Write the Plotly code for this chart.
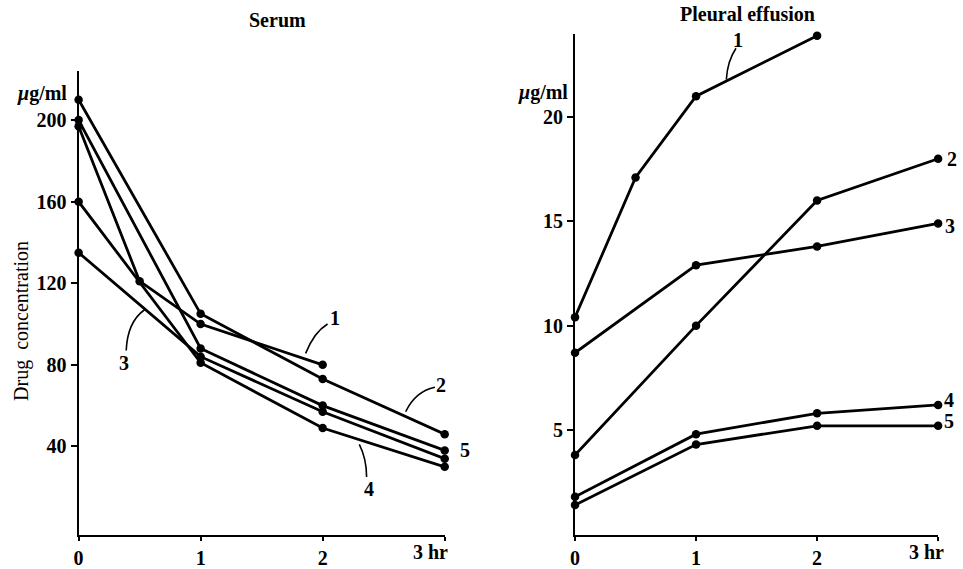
import plotly.graph_objects as go

# ---- Data ----
serum_names = ["1", "2", "3", "4", "5"]
serum_t = [
    [0, 0.5, 1, 2],
    [0, 1, 2, 3],
    [0, 1, 2, 3],
    [0, 1, 2, 3],
    [0, 1, 2, 3],
]
serum_c = [
    [197, 121, 100, 80],
    [210, 105, 73, 46],
    [135, 84, 57, 34],
    [160, 81, 49, 30],
    [200, 88, 60, 38],
]

pleural_names = ["1", "2", "3", "4", "5"]
pleural_t = [
    [0, 0.5, 1, 2],
    [0, 1, 2, 3],
    [0, 1, 2, 3],
    [0, 1, 2, 3],
    [0, 1, 2, 3],
]
pleural_c = [
    [10.4, 17.1, 21.0, 23.9],
    [3.8, 10.0, 16.0, 18.0],
    [8.7, 12.9, 13.8, 14.9],
    [1.8, 4.8, 5.8, 6.2],
    [1.4, 4.3, 5.2, 5.2],
]

x_tickvals = [0, 1, 2, 3]
x_ticktext = ["0", "1", "2", "3 hr"]
serum_yticks = [40, 80, 120, 160, 200]
pleural_yticks = [5, 10, 15, 20]

FONT = "Liberation Serif"
W, H = 963, 569
fig = go.Figure()

for t, c in zip(serum_t, serum_c):
    fig.add_trace(go.Scatter(x=t, y=c, mode="lines+markers", xaxis="x", yaxis="y",
                             line=dict(color="black", width=2.8),
                             marker=dict(color="black", size=8.5), cliponaxis=False,
                             showlegend=False))
for t, c in zip(pleural_t, pleural_c):
    fig.add_trace(go.Scatter(x=t, y=c, mode="lines+markers", xaxis="x2", yaxis="y2",
                             line=dict(color="black", width=2.8),
                             marker=dict(color="black", size=8.5), cliponaxis=False,
                             showlegend=False))

def axis_style(ticklen):
    return dict(showgrid=False, zeroline=False, showline=True, linecolor="black",
                linewidth=2, ticks="outside", tickcolor="black", ticklen=ticklen,
                tickwidth=1.5,
                tickfont=dict(family=FONT, size=20, color="black", weight="bold"))

# last x tick label ("3 hr") sits left of its tick in the original, drawn as annotation
x_ticktext_axis = x_ticktext[:-1] + [""]

fig.update_layout(
    width=W, height=H,
    margin=dict(l=0, r=0, t=0, b=0),
    paper_bgcolor="white", plot_bgcolor="white",
    xaxis=dict(domain=[74/W, 442/W], range=[0, 3], tickvals=x_tickvals,
               ticktext=x_ticktext_axis, anchor="y", **axis_style(4)),
    yaxis=dict(domain=[27/H, 497/H], range=[-3.6, 224], tickvals=serum_yticks,
               anchor="x", **axis_style(6)),
    xaxis2=dict(domain=[573/W, 938/W], range=[0, 3], tickvals=x_tickvals,
                ticktext=x_ticktext_axis, anchor="y2", **axis_style(4)),
    yaxis2=dict(domain=[27/H, 535/H], range=[-0.05, 24.0], tickvals=pleural_yticks,
                anchor="x2", **axis_style(6)),
)

ann = []
def txt(x, y, s, xref, yref, size=18, **kw):
    d = dict(x=x, y=y, text=s, xref=xref, yref=yref, showarrow=False,
             xanchor="center", yanchor="middle",
             font=dict(family=FONT, size=size, color="black"))
    d.update(kw)
    ann.append(d)

# Titles and axis labels
txt(274/W, 1 - 20/H, "<b>Serum</b>", "paper", "paper", size=20)
txt(746/W, 1 - 14/H, "<b>Pleural effusion</b>", "paper", "paper", size=20)
txt(64/W, 1 - 95/H, "<b><i>μ</i>g/ml</b>", "paper", "paper", size=20, xanchor="right")
txt(568/W, 1 - 94/H, "<b><i>μ</i>g/ml</b>", "paper", "paper", size=20, xanchor="right")
ann.append(dict(x=16/W, y=1 - 325/H, text="Drug  concentration", xref="paper",
                yref="paper", showarrow=False, textangle=-90, xanchor="center",
                yanchor="middle", font=dict(family=FONT, size=20, color="black")))

# "3 hr" tick labels
txt(447/W, 1 - 559/H, "<b>" + x_ticktext[-1] + "</b>", "paper", "paper", size=20,
    xanchor="right")
txt(946/W, 1 - 559/H, "<b>" + x_ticktext[-1] + "</b>", "paper", "paper", size=20,
    xanchor="right")

# Series labels (serum) -- x given in hours, placed relative to the axis domain
for x, y, s in [(2.10, 103, "1"), (2.97, 70, "2"), (0.375, 81, "3"),
                (2.38, 19, "4"), (3.17, 38, "5")]:
    txt(x / 3, y, "<b>" + s + "</b>", "x domain", "y", size=20)
# Series labels (pleural)
for x, y, s in [(1.35, 23.7, "1"), (3.114, 17.97, "2"), (3.10, 14.76, "3"),
                (3.09, 6.42, "4"), (3.09, 5.42, "5")]:
    txt(x / 3, y, "<b>" + s + "</b>", "x2 domain", "y2", size=20)
fig.update_layout(annotations=ann)

# Leader lines
shapes = []
def leader(x0, y0, cx, cy, x1, y1, xref, yref):
    shapes.append(dict(type="path", xref=xref, yref=yref,
                       path=f"M {x0},{y0} Q {cx},{cy} {x1},{y1}",
                       line=dict(color="black", width=1.6)))
leader(1.86, 85.6, 1.93, 96, 2.04, 100, "x", "y")
leader(2.68, 57, 2.76, 67, 2.92, 69, "x", "y")
leader(0.54, 107, 0.40, 101, 0.39, 87, "x", "y")
leader(2.30, 41, 2.36, 34, 2.36, 25, "x", "y")
leader(3.04, 37.6, 3.08, 38.5, 3.12, 38.5, "x", "y")
leader(1.25, 21.8, 1.26, 22.7, 1.33, 23.3, "x2", "y2")
fig.update_layout(shapes=shapes)

fig.write_html("out.html", config={"displayModeBar": False},
               post_script="document.body.style.margin='0px';document.body.style.overflow='hidden';")
